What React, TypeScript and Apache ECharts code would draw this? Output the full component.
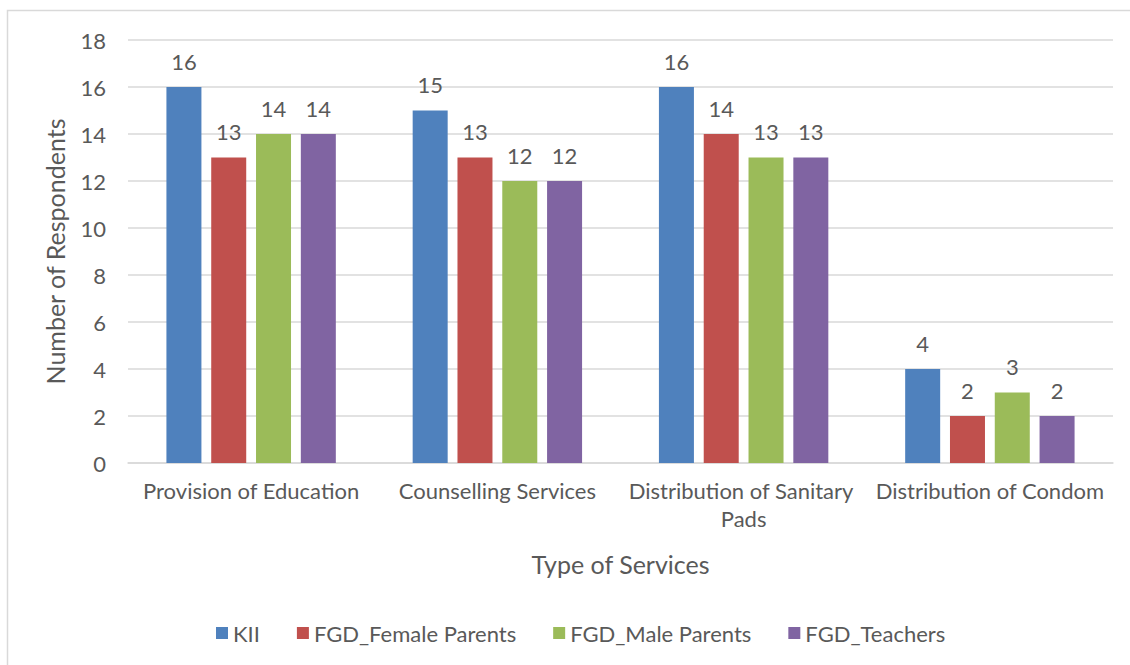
import React, { useEffect, useRef } from "react";
import * as echarts from "echarts";

const categories = [
  "Provision of Education",
  "Counselling Services",
  "Distribution of Sanitary Pads",
  "Distribution of Condom",
];
const seriesNames = ["KII", "FGD_Female Parents", "FGD_Male Parents", "FGD_Teachers"];
const kii = [16, 15, 16, 4];
const fgdFemale = [13, 13, 14, 2];
const fgdMale = [14, 12, 13, 3];
const fgdTeachers = [14, 12, 13, 2];
const colors = ["#4F81BD", "#C0504D", "#9BBB59", "#8064A2"];
const yTicks = { min: 0, max: 18, interval: 2 };

const FONT = "Lato, 'Open Sans', sans-serif";
const TXT = "#595959";

export default function App() {
  const ref = useRef<HTMLDivElement>(null);
  useEffect(() => {
    if (!ref.current) return;
    const chart = echarts.init(ref.current, undefined, { renderer: "svg" });
    const values = [kii, fgdFemale, fgdMale, fgdTeachers];
    chart.setOption({
      animation: false,
      backgroundColor: "#ffffff",
      textStyle: { fontFamily: FONT, color: TXT },
      graphic: [
        {
          type: "rect",
          shape: { x: 7.5, y: 10.5, width: 1140, height: 680 },
          style: { fill: "none", stroke: "#D9D9D9", lineWidth: 1.5 },
          silent: true,
        },
      ],
      grid: { left: 128, right: 17, top: 40, bottom: 202, containLabel: false },
      legend: {
        data: seriesNames,
        top: 617,
        left: 211,
        itemWidth: 12,
        itemHeight: 12,
        itemGap: 37,
        icon: "rect",
        textStyle: { fontFamily: FONT, fontSize: 22, color: TXT },
      },
      xAxis: {
        type: "category",
        data: categories,
        name: "Type of Services",
        nameLocation: "middle",
        nameGap: 88,
        nameTextStyle: { fontFamily: FONT, fontSize: 25, color: TXT },
        axisLine: { lineStyle: { color: "#D9D9D9", width: 1.5 } },
        axisTick: { show: false },
        axisLabel: {
          fontFamily: FONT,
          fontSize: 22,
          color: TXT,
          margin: 13,
          interval: 0,
          width: 238,
          overflow: "break",
          lineHeight: 28,
        },
      },
      yAxis: {
        type: "value",
        min: yTicks.min,
        max: yTicks.max,
        interval: yTicks.interval,
        name: "Number of Respondents",
        nameLocation: "middle",
        nameGap: 61,
        nameTextStyle: { fontFamily: FONT, fontSize: 25, color: TXT },
        axisLine: { show: false },
        axisTick: { show: false },
        axisLabel: { fontFamily: FONT, fontSize: 22, color: TXT, margin: 22 },
        splitLine: { lineStyle: { color: "#D9D9D9", width: 1.5 } },
      },
      series: seriesNames.map((name, i) => ({
        name,
        type: "bar",
        data: values[i],
        barWidth: 35,
        barGap: "28%",
        itemStyle: { color: colors[i] },
        label: {
          show: true,
          position: "top",
          distance: 15,
          fontFamily: FONT,
          fontSize: 22,
          color: TXT,
        },
      })),
    });
    return () => chart.dispose();
  }, []);
  return (
    <div
      ref={ref}
      style={{ position: "absolute", left: 0, top: 0, width: 1130, height: 665 }}
    />
  );
}
